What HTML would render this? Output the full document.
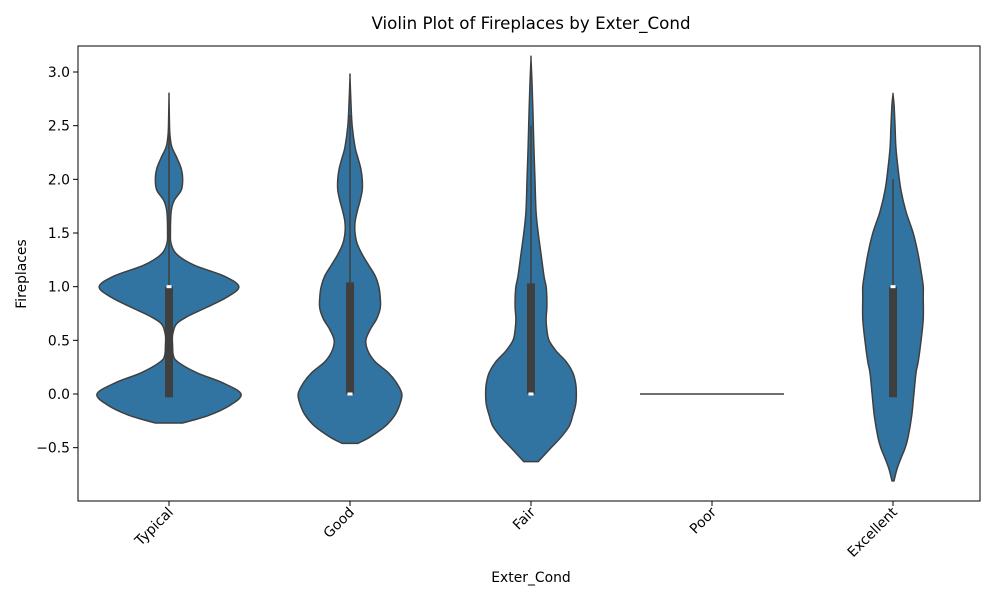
<!DOCTYPE html>
<html><head><meta charset="utf-8"><style>
body{margin:0;background:#fff;font-family:"Liberation Sans","DejaVu Sans",sans-serif}
svg text{font-family:"DejaVu Sans","Liberation Sans",sans-serif;fill:#000}
</style></head><body>
<svg id="chart" width="1000" height="600" viewBox="0 0 1000 600">
<rect x="0" y="0" width="1000" height="600" fill="#fff"/>
<g id="violins"></g>
<g id="axes"></g>
<rect x="78" y="46" width="902" height="455" fill="none" stroke="#000" stroke-width="1"/>
<text x="531" y="29" font-size="16.7" text-anchor="middle">Violin Plot of Fireplaces by Exter_Cond</text>
<text x="531" y="582" font-size="13.9" text-anchor="middle">Exter_Cond</text>
<text x="0" y="0" font-size="13.9" text-anchor="middle" transform="translate(26,274) rotate(-90)">Fireplaces</text>
</svg>
<script>
const categories = ["Typical","Good","Fair","Poor","Excellent"];
const yTicks = [-0.5,0,0.5,1,1.5,2,2.5,3];
// density profiles: [value, relative half-width 0..1]
const profTypical = [[-0.27,0.19],[-0.2,0.55],[-0.1,0.86],[0,1],[0.1,0.76],[0.2,0.38],[0.3,0.12],[0.36,0.06],[0.45,0.05],[0.55,0.05],[0.65,0.1],[0.72,0.25],[0.8,0.5],[0.9,0.8],[1.0,0.97],[1.1,0.76],[1.2,0.35],[1.3,0.11],[1.4,0.03],[1.5,0.02],[1.7,0.03],[1.8,0.07],[1.9,0.17],[2.0,0.19],[2.1,0.17],[2.2,0.11],[2.3,0.04],[2.4,0.015],[2.5,0.007],[2.77,0]];
const profGood = [[-0.46,0.11],[-0.4,0.28],[-0.3,0.49],[-0.2,0.62],[-0.1,0.69],[0,0.72],[0.1,0.65],[0.2,0.53],[0.3,0.35],[0.4,0.25],[0.5,0.22],[0.6,0.28],[0.7,0.37],[0.8,0.42],[0.9,0.42],[1.0,0.4],[1.1,0.35],[1.2,0.26],[1.3,0.17],[1.4,0.1],[1.5,0.07],[1.6,0.07],[1.7,0.1],[1.8,0.14],[1.9,0.17],[2.0,0.17],[2.1,0.15],[2.2,0.11],[2.3,0.07],[2.5,0.03],[2.7,0.014],[2.95,0]];
const profFair = [[-0.63,0.1],[-0.5,0.28],[-0.4,0.42],[-0.3,0.53],[-0.2,0.58],[-0.1,0.62],[0,0.63],[0.1,0.62],[0.2,0.58],[0.3,0.49],[0.4,0.35],[0.5,0.25],[0.6,0.22],[0.7,0.21],[0.8,0.22],[0.9,0.22],[1.0,0.21],[1.1,0.18],[1.3,0.14],[1.5,0.1],[1.7,0.07],[2.0,0.055],[2.3,0.04],[2.6,0.028],[2.9,0.014],[3.12,0]];
const profPoor = [[0,1]];
const profExcellent = [[-0.81,0.014],[-0.7,0.055],[-0.6,0.11],[-0.5,0.17],[-0.4,0.21],[-0.2,0.26],[0,0.29],[0.2,0.32],[0.3,0.35],[0.5,0.39],[0.7,0.42],[0.9,0.42],[1.0,0.42],[1.1,0.4],[1.3,0.35],[1.5,0.28],[1.7,0.18],[1.9,0.11],[2.1,0.07],[2.3,0.04],[2.5,0.028],[2.7,0.014],[2.79,0]];
// box stats: [q1, median, q3, whiskerLow, whiskerHigh]
const boxTypical = [-0.03,1,1,-0.03,2.5];
const boxGood = [0,0,1.04,0,2.6];
const boxFair = [0,0,1.03,0,2.5];
const boxPoor = null;
const boxExcellent = [-0.03,1,1,-0.03,2.0];

const profiles=[profTypical,profGood,profFair,profPoor,profExcellent];
const boxes=[boxTypical,boxGood,boxFair,boxPoor,boxExcellent];
const NS="http://www.w3.org/2000/svg";
const X0=169, DX=181, MAXW=72;
function xPos(i){return X0+i*DX;}
function yPos(v){return 394-107.33*v;}
function mk(t,a,p){const e=document.createElementNS(NS,t);for(const k in a)e.setAttribute(k,a[k]);p.appendChild(e);return e;}
const vg=document.getElementById('violins'), ag=document.getElementById('axes');
profiles.forEach((pr,i)=>{
  const cx=xPos(i);
  if(pr.length===1){
    const l=mk('line',{x1:cx-MAXW*pr[0][1],x2:cx+MAXW*pr[0][1],y1:yPos(pr[0][0]),y2:yPos(pr[0][0]),stroke:'#3f3f3f','stroke-width':1.5},vg);
    
    
  } else {
    const right=pr.map(p=>[cx+MAXW*p[1],yPos(p[0])]);
    const left=pr.slice().reverse().map(p=>[cx-MAXW*p[1],yPos(p[0])]);
    const pts=right.concat(left);
    let d='M'+pts[0][0]+','+pts[0][1];
    for(let k=0;k<pts.length-1;k++){
      const p0=pts[Math.max(k-1,0)],p1=pts[k],p2=pts[k+1],p3=pts[Math.min(k+2,pts.length-1)];
      d+=' C'+(p1[0]+(p2[0]-p0[0])/6)+','+(p1[1]+(p2[1]-p0[1])/6)+' '+(p2[0]-(p3[0]-p1[0])/6)+','+(p2[1]-(p3[1]-p1[1])/6)+' '+p2[0]+','+p2[1];
    }
    d+='Z';
    const pa=mk('path',{d:d,fill:'#3274a1',stroke:'#3f3f3f','stroke-width':1.5},vg);
    
    
  }
  const b=boxes[i];
  if(b){
    const w=mk('line',{x1:cx,x2:cx,y1:yPos(b[3]),y2:yPos(b[4]),stroke:'#3f3f3f','stroke-width':1.5},vg);
    
    
    const r=mk('rect',{x:cx-4,y:yPos(b[2]),width:8,height:yPos(b[0])-yPos(b[2]),fill:'#3f3f3f'},vg);
    
    
    const m=mk('rect',{x:cx-2.5,y:yPos(b[1])-1.5,width:5,height:3,fill:'#fff'},vg);
    
    
  }
  const t=mk('line',{x1:cx,x2:cx,y1:501,y2:506,stroke:'#000'},ag);
  
  
  const tx=mk('text',{x:0,y:0,'font-size':13.9,'text-anchor':'end',transform:'translate('+(cx+5)+',513) rotate(-45)'},ag);
  tx.textContent=categories[i];
  
  
});
yTicks.forEach(v=>{
  const y=yPos(v);
  const t=mk('line',{x1:73,x2:78,y1:y,y2:y,stroke:'#000'},ag);
  
  
  const tx=mk('text',{x:70,y:y+5,'font-size':13.9,'text-anchor':'end'},ag);
  tx.textContent=(v<0?'\u2212':'')+Math.abs(v).toFixed(1);
  
  
});
</script>
</body></html>
